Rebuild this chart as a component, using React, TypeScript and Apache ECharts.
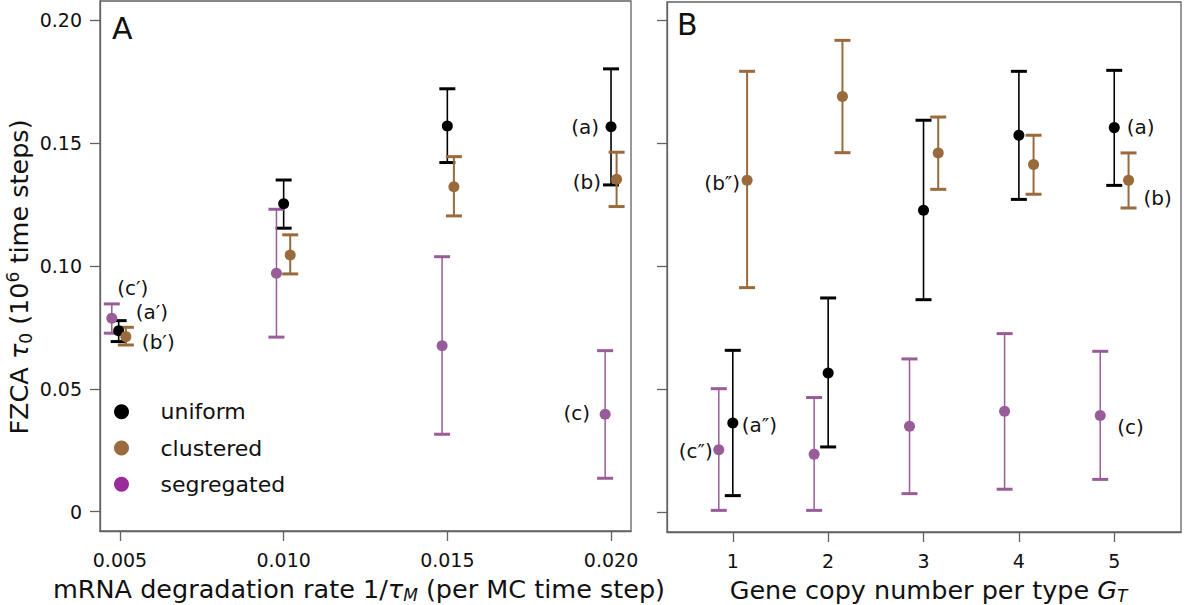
import React, { useEffect, useRef } from 'react';
import * as echarts from 'echarts';

const FONT = "'DejaVu Sans', sans-serif";

// Tick values
const rateTicks = [0.005, 0.01, 0.015, 0.02];
const copyTicks = [1, 2, 3, 4, 5];
const yTicks = [0, 0.05, 0.1, 0.15, 0.2];

// Legend
const groupNames = ['uniform', 'clustered', 'segregated'];

// Panel A: mRNA degradation rate (points drawn slightly dodged as in the figure)
const aUniformX = [0.00496, 0.01, 0.015, 0.02];
const aUniformMean = [0.0736, 0.1252, 0.1569, 0.1566];
const aUniformLow = [0.0692, 0.1153, 0.142, 0.1329];
const aUniformHigh = [0.0777, 0.1349, 0.172, 0.1801];
const aUniformNotes = ['(a′)', '', '', '(a)'];

const aClusteredX = [0.00518, 0.0102, 0.0152, 0.02017];
const aClusteredMean = [0.0712, 0.1044, 0.1322, 0.1352];
const aClusteredLow = [0.0678, 0.0967, 0.1203, 0.1241];
const aClusteredHigh = [0.075, 0.1126, 0.1444, 0.1462];
const aClusteredNotes = ['(b′)', '', '', '(b)'];

const aSegregatedX = [0.00475, 0.00978, 0.01484, 0.01982];
const aSegregatedMean = [0.0787, 0.097, 0.0675, 0.0396];
const aSegregatedLow = [0.0726, 0.071, 0.0315, 0.0136];
const aSegregatedHigh = [0.0845, 0.123, 0.1037, 0.0655];
const aSegregatedNotes = ['(c′)', '', '', '(c)'];

// Panel B: gene copy number per type
const bUniformX = [1.0, 2.0, 3.0, 4.0, 5.0];
const bUniformMean = [0.0363, 0.0567, 0.1229, 0.1534, 0.1565];
const bUniformLow = [0.0068, 0.0266, 0.0865, 0.1273, 0.133];
const bUniformHigh = [0.0659, 0.0872, 0.1595, 0.1794, 0.1798];
const bUniformNotes = ['(a″)', '', '', '', '(a)'];

const bClusteredX = [1.15, 2.15, 3.154, 4.154, 5.15];
const bClusteredMean = [0.1351, 0.1692, 0.1462, 0.1415, 0.1351];
const bClusteredLow = [0.0914, 0.1463, 0.1314, 0.1294, 0.1238];
const bClusteredHigh = [0.1794, 0.192, 0.1608, 0.1534, 0.1462];
const bClusteredNotes = ['(b″)', '', '', '', '(b)'];

const bSegregatedX = [0.853, 1.853, 2.853, 3.85, 4.853];
const bSegregatedMean = [0.0255, 0.0236, 0.035, 0.0411, 0.0394];
const bSegregatedLow = [0.0008, 0.0008, 0.0076, 0.0094, 0.0134];
const bSegregatedHigh = [0.0503, 0.0467, 0.0624, 0.0727, 0.0655];
const bSegregatedNotes = ['(c″)', '', '', '', '(c)'];

// ---- styling (not data) ----
const COLORS: Record<string, string> = {
  uniform: '#000000',
  clustered: '#986a3c',
  segregated: '#985c98',
};
const LEGEND_COLORS: Record<string, string> = {
  uniform: '#000000',
  clustered: '#9b6b3f',
  segregated: '#9b2b9b',
};
const STEM_WIDTH: Record<string, number> = { uniform: 1.6, clustered: 2, segregated: 1.5 };

// annotation placement relative to its point: [align, dx, dy]
const NOTE_PLACE: Record<string, [string, number, number]> = {
  'A-uniform-0': ['left', 17, -19],
  'A-uniform-3': ['right', -12, 0],
  'A-clustered-0': ['left', 16, 5],
  'A-clustered-3': ['right', -15.5, 2.5],
  'A-segregated-0': ['center', 21, -30],
  'A-segregated-3': ['right', -15, -1],
  'B-uniform-0': ['left', 9, 1.5],
  'B-uniform-4': ['left', 12.5, -0.5],
  'B-clustered-0': ['right', -7, 2.5],
  'B-clustered-4': ['left', 15, 18],
  'B-segregated-0': ['right', -6, 1.5],
  'B-segregated-4': ['left', 17, 12],
};

const AXIS_GRAY = '#626262';
const TEXT = '#111111';

type Group = {
  name: string;
  x: number[];
  mean: number[];
  low: number[];
  high: number[];
  notes: string[];
};

const panelA: Group[] = [
  { name: 'uniform', x: aUniformX, mean: aUniformMean, low: aUniformLow, high: aUniformHigh, notes: aUniformNotes },
  { name: 'clustered', x: aClusteredX, mean: aClusteredMean, low: aClusteredLow, high: aClusteredHigh, notes: aClusteredNotes },
  { name: 'segregated', x: aSegregatedX, mean: aSegregatedMean, low: aSegregatedLow, high: aSegregatedHigh, notes: aSegregatedNotes },
];
const panelB: Group[] = [
  { name: 'uniform', x: bUniformX, mean: bUniformMean, low: bUniformLow, high: bUniformHigh, notes: bUniformNotes },
  { name: 'clustered', x: bClusteredX, mean: bClusteredMean, low: bClusteredLow, high: bClusteredHigh, notes: bClusteredNotes },
  { name: 'segregated', x: bSegregatedX, mean: bSegregatedMean, low: bSegregatedLow, high: bSegregatedHigh, notes: bSegregatedNotes },
];

function errorBars(panel: string, idx: number, g: Group) {
  const color = COLORS[g.name];
  const stem = STEM_WIDTH[g.name];
  return {
    type: 'custom',
    name: g.name + ' interval ' + panel,
    xAxisIndex: idx,
    yAxisIndex: idx,
    silent: true,
    z: 2,
    data: g.x.map((x, i) => [x, g.low[i], g.high[i]]),
    encode: { x: 0, y: [1, 2] },
    renderItem: (_params: any, api: any) => {
      const x = api.value(0);
      const lo = api.coord([x, api.value(1)]);
      const hi = api.coord([x, api.value(2)]);
      const hw = 8;
      return {
        type: 'group',
        children: [
          { type: 'line', shape: { x1: lo[0], y1: lo[1], x2: hi[0], y2: hi[1] }, style: { stroke: color, lineWidth: stem } },
          { type: 'line', shape: { x1: hi[0] - hw, y1: hi[1], x2: hi[0] + hw, y2: hi[1] }, style: { stroke: color, lineWidth: 3 } },
          { type: 'line', shape: { x1: lo[0] - hw, y1: lo[1], x2: lo[0] + hw, y2: lo[1] }, style: { stroke: color, lineWidth: 3 } },
        ],
      };
    },
  };
}

function points(panel: string, idx: number, g: Group) {
  return {
    type: 'scatter',
    name: g.name,
    xAxisIndex: idx,
    yAxisIndex: idx,
    z: 3,
    symbol: 'circle',
    symbolSize: 11,
    itemStyle: { color: COLORS[g.name], opacity: 1 },
    emphasis: { disabled: true },
    data: g.x.map((x, i) => {
      const note = g.notes[i];
      if (!note) return [x, g.mean[i]];
      const place = NOTE_PLACE[panel + '-' + g.name + '-' + i] || ['left', 10, 0];
      return {
        value: [x, g.mean[i]],
        label: {
          show: true,
          formatter: note,
          position: 'inside',
          align: place[0],
          verticalAlign: 'middle',
          offset: [place[1], place[2]],
          color: TEXT,
          fontSize: 20,
          fontFamily: FONT,
          textBorderWidth: 0,
        },
      };
    }),
  };
}

const richTitle = (size: number) => ({
  it: { fontStyle: 'italic', fontSize: size, fontFamily: FONT, color: TEXT },
  sub: { fontSize: 17, lineHeight: 12, verticalAlign: 'bottom', fontFamily: FONT, color: TEXT },
  subit: { fontSize: 17, lineHeight: 12, verticalAlign: 'bottom', fontStyle: 'italic', fontFamily: FONT, color: TEXT },
  sup: { fontSize: 17, lineHeight: 12, verticalAlign: 'top', fontFamily: FONT, color: TEXT },
});

const commonAxisLine = { show: true, onZero: false, lineStyle: { color: AXIS_GRAY, width: 1.3 } };
const commonTick = (vals: number[]) => ({
  show: true,
  inside: false,
  length: 10,
  customValues: vals,
  lineStyle: { color: AXIS_GRAY, width: 1.3 },
});

export default function App() {
  const ref = useRef<HTMLDivElement>(null);

  useEffect(() => {
    if (!ref.current) return;
    const chart = echarts.init(ref.current, undefined, { renderer: 'svg' });
    const option: any = {
      animation: false,
      backgroundColor: '#ffffff',
      textStyle: { fontFamily: FONT },
      grid: [
        { left: 100, top: 1, width: 531, height: 530, show: true, borderColor: AXIS_GRAY, borderWidth: 1.3, backgroundColor: 'transparent', containLabel: false, outerBoundsMode: 'none' },
        { left: 667, top: 2, width: 514, height: 530, show: true, borderColor: AXIS_GRAY, borderWidth: 1.3, backgroundColor: 'transparent', containLabel: false, outerBoundsMode: 'none' },
      ],
      xAxis: [
        {
          type: 'value',
          gridIndex: 0,
          min: 0.00439,
          max: 0.02061,
          axisLine: commonAxisLine,
          axisTick: commonTick(rateTicks),
          splitLine: { show: false },
          axisLabel: {
            customValues: rateTicks,
            formatter: (v: number) => v.toFixed(3),
            margin: 19,
            fontSize: 19,
            fontFamily: FONT,
            color: TEXT,
          },
          name: 'mRNA degradation rate 1/{it|τ}{subit|M} (per MC time step)',
          nameLocation: 'middle',
          nameGap: 41,
          nameTextStyle: { fontSize: 25.5, fontFamily: FONT, color: TEXT, lineHeight: 30, padding: [0, 13, 0, 0], rich: richTitle(25.5) },
        },
        {
          type: 'value',
          gridIndex: 1,
          min: 0.31,
          max: 5.7,
          axisLine: commonAxisLine,
          axisTick: commonTick(copyTicks),
          splitLine: { show: false },
          axisLabel: {
            customValues: copyTicks,
            formatter: (v: number) => String(v),
            margin: 19,
            fontSize: 19,
            fontFamily: FONT,
            color: TEXT,
          },
          name: 'Gene copy number per type {it|G}{subit|T}',
          nameLocation: 'middle',
          nameGap: 41,
          nameTextStyle: { fontSize: 25.5, fontFamily: FONT, color: TEXT, lineHeight: 30, padding: [0, 0, 0, 9], rich: richTitle(25.5) },
        },
      ],
      yAxis: [
        {
          type: 'value',
          gridIndex: 0,
          min: -0.00785,
          max: 0.2077,
          axisLine: commonAxisLine,
          axisTick: commonTick(yTicks),
          splitLine: { show: false },
          axisLabel: {
            customValues: yTicks,
            formatter: (v: number) => (v === 0 ? '0' : v.toFixed(2)),
            margin: 18,
            fontSize: 19,
            fontFamily: FONT,
            color: TEXT,
          },
          name: 'FZCA {it|τ}{sub|0} (10{sup|6} time steps)',
          nameLocation: 'middle',
          nameRotate: 90,
          nameGap: 66,
          nameTextStyle: { fontSize: 25.5, fontFamily: FONT, color: TEXT, lineHeight: 30, padding: [0, 22, 0, 0], rich: richTitle(25.5) },
        },
        {
          type: 'value',
          gridIndex: 1,
          min: -0.008,
          max: 0.2076,
          axisLine: commonAxisLine,
          axisTick: commonTick(yTicks),
          splitLine: { show: false },
          axisLabel: { show: false },
        },
      ],
      legend: {
        orient: 'vertical',
        left: 114,
        top: 400.7,
        padding: 0,
        itemWidth: 68,
        itemHeight: 15,
        itemGap: 14.3,
        icon: 'circle',
        selectedMode: false,
        textStyle: { fontSize: 22, lineHeight: 22, fontFamily: FONT, color: TEXT },
        data: groupNames.map((n) => ({ name: n, itemStyle: { color: LEGEND_COLORS[n] } })),
      },
      graphic: [
        { type: 'text', x: 112, y: 28, style: { text: 'A', fontSize: 30, fontFamily: FONT, fill: TEXT, verticalAlign: 'middle' } },
        { type: 'text', x: 677, y: 24, style: { text: 'B', fontSize: 30, fontFamily: FONT, fill: TEXT, verticalAlign: 'middle' } },
      ],
      series: [
        ...panelA.map((g) => errorBars('A', 0, g)),
        ...panelB.map((g) => errorBars('B', 1, g)),
        ...panelA.map((g) => points('A', 0, g)),
        ...panelB.map((g) => points('B', 1, g)),
      ],
    };
    chart.setOption(option);
    return () => chart.dispose();
  }, []);

  return (
    <div
      ref={ref}
      style={{ position: 'fixed', left: 0, top: 0, width: 1200, height: 605, background: '#fff' }}
    />
  );
}
